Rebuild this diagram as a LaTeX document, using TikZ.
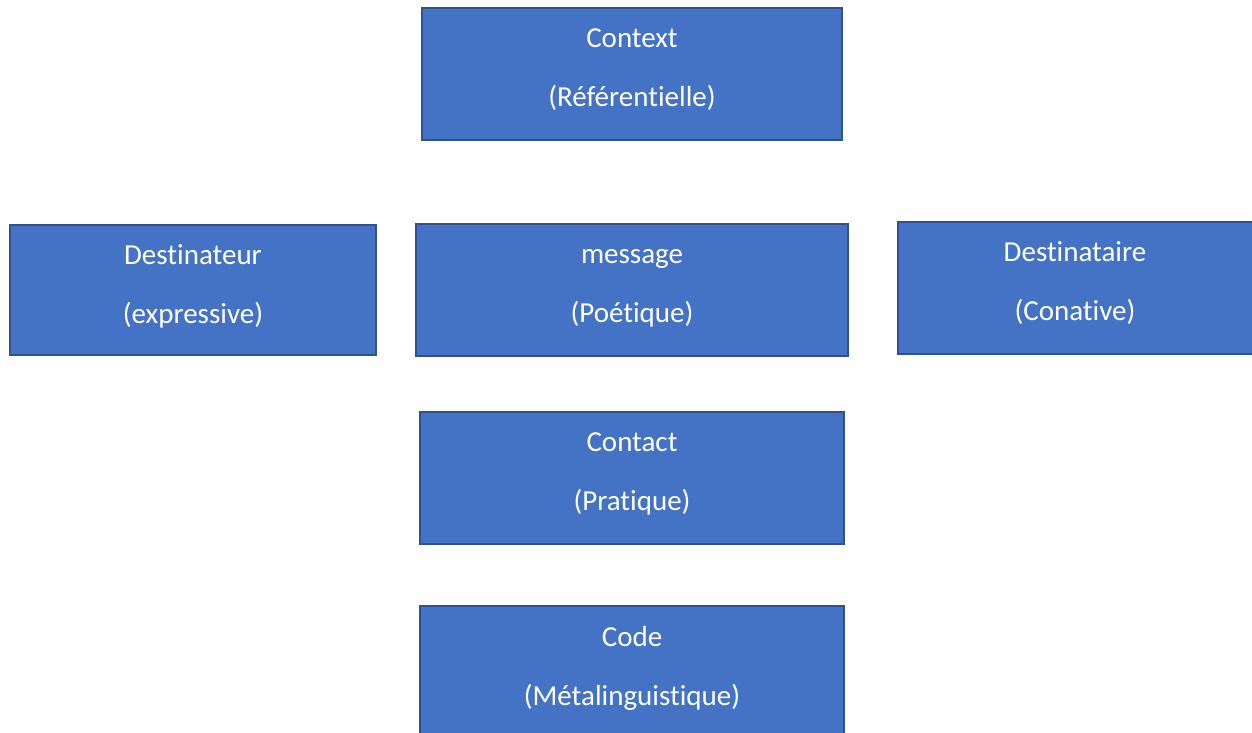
\documentclass[tikz,border=0pt]{standalone}
\usepackage{fontspec}
\setmainfont[Ligatures={NoCommon}]{Carlito}
\definecolor{boxfill}{HTML}{4472C4}
\definecolor{boxline}{HTML}{2F528F}
\tikzset{
  fnbox/.style={draw=boxline, fill=boxfill, line width=2pt, rectangle, inner sep=0pt},
  fntext/.style={text=white, anchor=base, inner sep=0pt, font=\fontsize{29}{34}\selectfont}
}
\begin{document}
\begin{tikzpicture}[x=1pt,y=-1pt]
\useasboundingbox (0,0) rectangle (1252,733);
\clip (0,0) rectangle (1252,733);
\fill[white] (0,0) rectangle (1252,733);
% boxes
\node[fnbox, minimum width=420pt, minimum height=132pt] (ctx) at (632,74) {};
\node[fnbox, minimum width=366pt, minimum height=130pt] (dest) at (193,290) {};
\node[fnbox, minimum width=432pt, minimum height=132pt] (msg) at (632,290) {};
\node[fnbox, minimum width=380pt, minimum height=132pt] (dire) at (1088,288) {};
\node[fnbox, minimum width=424pt, minimum height=132pt] (cont) at (632,478) {};
\node[fnbox, minimum width=424pt, minimum height=150pt] (code) at (632,681) {};
% texts
\node[fntext] (t1a) at ([yshift=-41pt]ctx.north) {Context};
\node[fntext] (t1b) at ([yshift=-100pt]ctx.north) {(Référentielle)};
\node[fntext] (t2a) at ([yshift=-40pt]dest.north) {Destinateur};
\node[fntext] (t2b) at ([yshift=-99.5pt]dest.north) {(expressive)};
\node[fntext] (t3a) at ([yshift=-40pt]msg.north) {message};
\node[fntext] (t3b) at ([yshift=-99.5pt]msg.north) {(Poétique)};
\node[fntext] (t4a) at ([yshift=-40pt]dire.north -| 1075,0) {Destinataire};
\node[fntext] (t4b) at ([yshift=-99.5pt]dire.north -| 1075,0) {(Conative)};
\node[fntext] (t5a) at ([yshift=-40pt]cont.north) {Contact};
\node[fntext] (t5b) at ([yshift=-99.5pt]cont.north) {(Pratique)};
\node[fntext] (t6a) at (632,646) {Code};
\node[fntext] (t6b) at (632,705.5) {(Métalinguistique)};
\end{tikzpicture}
\end{document}
